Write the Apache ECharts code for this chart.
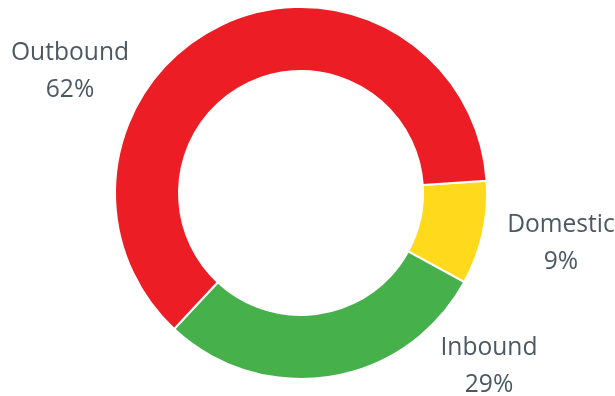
<!DOCTYPE html>
<html>
<head>
<meta charset="utf-8">
<script src="https://cdn.jsdelivr.net/npm/echarts@6/dist/echarts.min.js"></script>
<style>
  html, body { margin: 0; padding: 0; background: #fff; }
  #chart { width: 615px; height: 396px; }
</style>
</head>
<body>
<div id="chart"></div>
<script>
// Share of trips by type, clockwise from just above 3 o'clock
const categories = ['Domestic', 'Inbound', 'Outbound'];
const shares = [9, 29, 62];
const colors = ['#ffd91c', '#46b04b', '#ec1d24'];

// Where each label block is centred (px)
const labelCenters = [[561, 243], [489, 366], [70, 71]];

const chart = echarts.init(document.getElementById('chart'), null, { renderer: 'canvas' });

chart.setOption({
  animation: false,
  series: [{
    type: 'pie',
    center: [301, 193],
    radius: [122, 186],
    startAngle: 3.8,
    clockwise: true,
    avoidLabelOverlap: false,
    itemStyle: { borderColor: '#ffffff', borderWidth: 2 },
    label: {
      show: true,
      position: 'outside',
      formatter: p => p.name + '\n' + p.value + '%',
      fontFamily: 'Open Sans',
      fontSize: 24.6,
      lineHeight: 37,
      color: '#4b5965',
      align: 'center'
    },
    labelLine: { show: false },
    labelLayout: p => ({
      x: labelCenters[p.dataIndex][0],
      y: labelCenters[p.dataIndex][1],
      align: 'center',
      verticalAlign: 'middle'
    }),
    emphasis: { disabled: true },
    data: categories.map((name, i) => ({
      name: name,
      value: shares[i],
      itemStyle: { color: colors[i] }
    }))
  }]
});
</script>
</body>
</html>
